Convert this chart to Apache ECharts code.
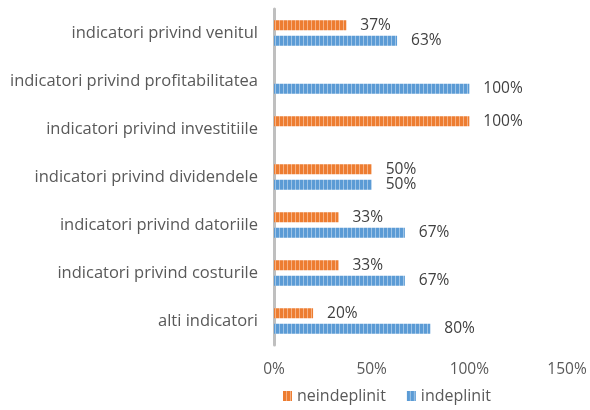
<!DOCTYPE html>
<html>
<head>
<meta charset="utf-8">
<script src="https://cdn.jsdelivr.net/npm/echarts@6/dist/echarts.min.js"></script>
<style>
  html, body { margin: 0; padding: 0; background: #fff; }
  #main { width: 590px; height: 410px; }
</style>
</head>
<body>
<div id="main"></div>
<script>
const categories = [
  'indicatori privind venitul',
  'indicatori privind profitabilitatea',
  'indicatori privind investitiile',
  'indicatori privind dividendele',
  'indicatori privind datoriile',
  'indicatori privind costurile',
  'alti indicatori'
];
const neindeplinit = [37, 0, 100, 50, 33, 33, 20];
const indeplinit = [63, 100, 0, 50, 67, 67, 80];
const xTicks = [0, 50, 100, 150];

// striped fill like the original
function stripes(base, light) {
  const c = document.createElement('canvas');
  c.width = 4; c.height = 4;
  const ctx = c.getContext('2d');
  ctx.fillStyle = base;
  ctx.fillRect(0, 0, 4, 4);
  ctx.fillStyle = light;
  ctx.fillRect(3, 0, 1, 4);
  return { image: c, repeat: 'repeat' };
}

const orange = '#ED7D31';
const blue = '#5B9BD5';
const font = 'Open Sans';

const chart = echarts.init(document.getElementById('main'));

function labelFor() {
  return {
    show: true,
    position: 'right',
    distance: 14,
    color: '#404040',
    fontSize: 15.5,
    fontFamily: font,
    formatter: p => p.value === 0 ? '' : p.value + '%'
  };
}

chart.setOption({
  animation: false,
  grid: { left: 274, right: 23, top: 9, bottom: 65 },
  legend: {
    bottom: 1,
    left: 278,
    itemWidth: 9,
    itemHeight: 10,
    itemGap: 21,
    icon: 'rect',
    textStyle: { color: '#595959', fontSize: 16, fontFamily: font },
    data: ['neindeplinit', 'indeplinit']
  },
  xAxis: {
    type: 'value',
    min: xTicks[0],
    max: xTicks[xTicks.length - 1],
    interval: 50,
    axisLine: { show: false },
    axisTick: { show: false },
    splitLine: { show: false },
    axisLabel: {
      color: '#595959',
      fontSize: 15.5,
      fontFamily: font,
      margin: 17,
      formatter: '{value}%'
    }
  },
  yAxis: {
    type: 'category',
    inverse: true,
    data: categories,
    axisLine: { lineStyle: { color: '#BFBFBF', width: 3 } },
    axisTick: { show: false },
    axisLabel: {
      color: '#595959',
      fontSize: 16.5,
      fontFamily: font,
      margin: 16
    }
  },
  series: [
    {
      name: 'neindeplinit',
      type: 'bar',
      data: neindeplinit,
      barWidth: 10,
      barGap: '55%',
      itemStyle: { color: stripes(orange, '#F6B183') },
      label: labelFor()
    },
    {
      name: 'indeplinit',
      type: 'bar',
      data: indeplinit,
      barWidth: 10,
      itemStyle: { color: stripes(blue, '#9DC3E6') },
      label: labelFor()
    }
  ]
});
</script>
</body>
</html>
